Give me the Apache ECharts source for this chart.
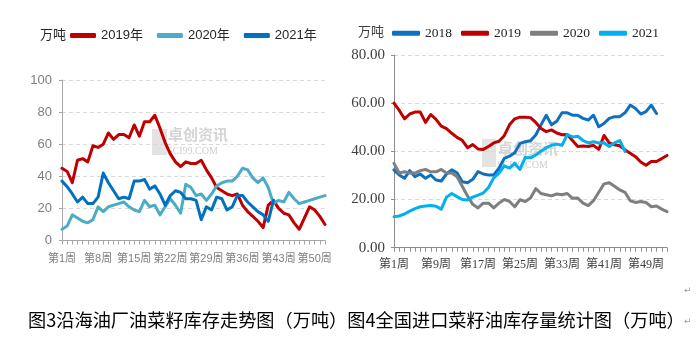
<!DOCTYPE html>
<html>
<head>
<meta charset="utf-8">
<script src="https://cdn.jsdelivr.net/npm/echarts@6/dist/echarts.min.js"></script>
<style>
html,body{margin:0;padding:0;background:#fff;}
#c{width:699px;height:339px;}
</style>
</head>
<body>
<div id="c"></div>
<script>
// ---------- Left chart: 沿海油厂油菜籽库存 (万吨) ----------
const weeksLeft = ['第1周','第2周','第3周','第4周','第5周','第6周','第7周','第8周','第9周','第10周',
  '第11周','第12周','第13周','第14周','第15周','第16周','第17周','第18周','第19周','第20周',
  '第21周','第22周','第23周','第24周','第25周','第26周','第27周','第28周','第29周','第30周',
  '第31周','第32周','第33周','第34周','第35周','第36周','第37周','第38周','第39周','第40周',
  '第41周','第42周','第43周','第44周','第45周','第46周','第47周','第48周','第49周','第50周',
  '第51周','第52周'];
const left2019 = [45,43,36,50,51,49,59,58,60,67,63,66,66,64,72,65,74,74,78,70,
  61,54,49,46,49,48,48,50,44,39,33,31,29,28,29,22,18,15,12,8,
  22,25,20,17,16,11,7,14,21,19,15,10];
const left2020 = [7,9,16,14,12,11,13,21,18,21,22,23,24,21,19,18,25,21,22,16,
  21,26,22,17,35,33,28,29,25,29,34,36,37,37,40,45,44,39,36,39,
  33,23,25,24,30,26,23,24,25,26,27,28];
const left2021 = [37,33.5,29,24,27,23,23,27,42,36,31,26,27,26,37,37,38,32,34,29,
  22,28,31,30,26,26,25,13,21,19,27,26,19,21,28,28,24,21,18,16,12,25];
const leftNames = ['2019年','2020年','2021年'];
const leftYTicks = {min:0, max:100, interval:20};
const leftLabelStep = 7;

// ---------- Right chart: 全国进口菜籽油库存量 (万吨) ----------
const weeksRight = ['第1周','第2周','第3周','第4周','第5周','第6周','第7周','第8周','第9周','第10周',
  '第11周','第12周','第13周','第14周','第15周','第16周','第17周','第18周','第19周','第20周',
  '第21周','第22周','第23周','第24周','第25周','第26周','第27周','第28周','第29周','第30周',
  '第31周','第32周','第33周','第34周','第35周','第36周','第37周','第38周','第39周','第40周',
  '第41周','第42周','第43周','第44周','第45周','第46周','第47周','第48周','第49周','第50周',
  '第51周','第52周','第53周'];
const right2018 = [32.3,30.2,28.8,32,29.5,30.6,28.8,30.2,28.1,27.7,
  30.6,32.3,31.1,27.4,27,28.4,31.6,30.6,30.2,30.2,
  33,37.1,38,39.4,43.3,44,44.4,46.8,51,55,
  51,52.5,56,56,55,55,53.7,53,55,50.2,
  51.6,53.7,54.4,54.4,56,59.2,57.8,55.5,56.5,59.2,55.7];
const right2019 = [60,57,53.5,55.5,56.3,56.3,52,55.3,53.3,50.5,
  49.4,47.5,45.8,44.6,41.5,42.8,41,40.8,42,43.5,
  44.2,46.5,51,53.5,54.2,54.2,54,52,49.5,48.2,
  48.9,47.6,46.9,47,44.5,42,42.2,42,42.5,40.8,
  46.6,43.5,42.7,42.3,40.6,39.2,37.8,35.6,34.2,35.8,35.8,37,38.3];
const right2020 = [35,31,31.5,31,31,32,32.5,31.5,31.5,32.5,
  31,31,29.5,25.5,21.5,18,16.5,18.5,18.5,16.5,
  18.5,20,19.2,17,19.9,19.2,20.6,24.5,22.5,22,
  21.5,22.3,22,22.5,20.5,20.6,18.5,17.5,19.5,23,
  26.5,27,25.5,24,23,19.5,18.8,19.2,18.8,17,17.3,16,15];
const right2021 = [12.9,13.2,14,15.2,16.2,17,17.3,17.5,17.2,16,
  21,22.5,21.2,20,19.8,21,21.8,22.7,25,29,
  31,34,33,35,32.5,37.5,37.3,38.5,40,41.5,
  42.5,43,42.5,47,46,46.3,44.5,43.5,44,43.5,
  43.6,42,43.5,44.5,40];
const rightNames = ['2018','2019','2020','2021'];
const rightYTicks = {min:0, max:80, interval:20};
const rightLabelStep = 8;

const unitText = '万吨';
const captionText = '图3沿海油厂油菜籽库存走势图（万吨）图4全国进口菜籽油库存量统计图（万吨）';

// ---------- styles ----------
const fLeft = "'Liberation Sans Narrow','Liberation Sans','Noto Sans CJK SC',sans-serif";
const fRight = "'Liberation Serif','Noto Sans CJK SC',serif";
const cjk = "'Noto Sans CJK SC',sans-serif";
const axisGray = '#a6a6a6';
const gridDash = {color:'#d9d9d9', type:[4,3], width:1};

function lineSeries(name, data, color, xi, yi, w) {
  return {
    name: name, type:'line', data: data, xAxisIndex: xi, yAxisIndex: yi,
    showSymbol:false, symbol:'none', smooth:false, z:3,
    lineStyle:{color: color, width: w, join:'round', cap:'round'},
    itemStyle:{color: color}
  };
}

const chart = echarts.init(document.getElementById('c'), null, {renderer:'canvas'});
chart.setOption({
  animation:false,
  backgroundColor:'#ffffff',
  grid:[
    {left:62, top:80, width:263, height:160.5},
    {left:394, top:55, width:273, height:192.7}
  ],
  legend:[
    {left:70, top:29, padding:0, itemWidth:26, itemHeight:5, itemGap:14, icon:'roundRect',
     data:leftNames, textStyle:{fontFamily:fLeft, fontSize:13, color:'#262626'}},
    {left:392, top:26.5, padding:0, itemWidth:28, itemHeight:5, itemGap:9, icon:'roundRect',
     data:rightNames, textStyle:{fontFamily:fRight, fontSize:13.5, color:'#262626'}}
  ],
  xAxis:[
    {type:'category', gridIndex:0, data:weeksLeft, boundaryGap:false,
     axisLine:{lineStyle:{color:axisGray, width:1}},
     axisTick:{show:true, interval:0, length:4, lineStyle:{color:axisGray}},
     axisLabel:{interval:function(i){return i % leftLabelStep === 0;}, margin:13, fontSize:11,
       color:'#7f7f7f', fontFamily:fLeft, hideOverlap:false},
     splitLine:{show:false}},
    {type:'category', gridIndex:1, data:weeksRight, boundaryGap:false,
     axisLine:{lineStyle:{color:'#8c8c8c', width:1}},
     axisTick:{show:true, interval:0, length:4, lineStyle:{color:'#8c8c8c'}},
     axisLabel:{interval:function(i){return i % rightLabelStep === 0;}, margin:11, fontSize:12,
       color:'#404040', fontFamily:fRight, hideOverlap:false},
     splitLine:{show:false}}
  ],
  yAxis:[
    {type:'value', gridIndex:0, min:leftYTicks.min, max:leftYTicks.max, interval:leftYTicks.interval,
     axisLine:{show:true, lineStyle:{color:axisGray, width:1}},
     axisTick:{show:true, length:3, lineStyle:{color:axisGray}},
     axisLabel:{margin:10, fontSize:13, color:'#7f7f7f', fontFamily:fLeft},
     splitLine:{show:true, lineStyle:gridDash}},
    {type:'value', gridIndex:1, min:rightYTicks.min, max:rightYTicks.max, interval:rightYTicks.interval,
     axisLine:{show:true, lineStyle:{color:'#8c8c8c', width:1}},
     axisTick:{show:true, length:3, lineStyle:{color:'#8c8c8c'}},
     axisLabel:{margin:9, fontSize:15, color:'#404040', fontFamily:fRight,
       formatter:function(v){return v.toFixed(2);}},
     splitLine:{show:true, lineStyle:gridDash}}
  ],
  graphic:[
    {type:'text', left:40, top:28, z:10, style:{text:unitText, font:"13px "+cjk, fill:'#262626'}},
    {type:'text', left:358, top:25, z:10, style:{text:unitText, font:"13px "+cjk, fill:'#404040'}},
    {type:'rect', left:152, top:129, z:0, shape:{width:15, height:26}, style:{fill:'#e3e3e3'}},
    {type:'text', left:168, top:127, z:0, style:{text:'卓创资讯', font:"bold 15px "+cjk, fill:'#d4d4d4'}},
    {type:'text', left:167, top:146, z:0, style:{text:'SCI99.COM', font:"10px 'Liberation Serif',serif", fill:'#cfcfcf'}},
    {type:'rect', left:482, top:139, z:0, shape:{width:14, height:28}, style:{fill:'#e3e3e3'}},
    {type:'text', left:498, top:141, z:0, style:{text:'卓创资讯', font:"bold 15px "+cjk, fill:'#d4d4d4'}},
    {type:'text', left:497, top:160, z:0, style:{text:'SCI99.COM', font:"10px 'Liberation Serif',serif", fill:'#cfcfcf'}},
    {type:'text', left:28, top:311, z:10, style:{text:captionText, font:"18.2px "+cjk, fill:'#000000'}},
    {type:'text', left:684, top:286, z:10, style:{text:'↵', font:"9px 'DejaVu Sans',sans-serif", fill:'#9a9a9a'}},
    {type:'text', left:684, top:317, z:10, style:{text:'↵', font:"9px 'DejaVu Sans',sans-serif", fill:'#9a9a9a'}}
  ],
  series:[
    lineSeries(leftNames[0], left2019, '#C00000', 0, 0, 3),
    lineSeries(leftNames[1], left2020, '#4BACC6', 0, 0, 3),
    lineSeries(leftNames[2], left2021, '#0070C0', 0, 0, 3),
    lineSeries(rightNames[0], right2018, '#1070C0', 1, 1, 3),
    lineSeries(rightNames[1], right2019, '#C00000', 1, 1, 3),
    lineSeries(rightNames[2], right2020, '#7F7F7F', 1, 1, 3),
    lineSeries(rightNames[3], right2021, '#00B0F0', 1, 1, 3)
  ]
});
</script>
</body>
</html>
